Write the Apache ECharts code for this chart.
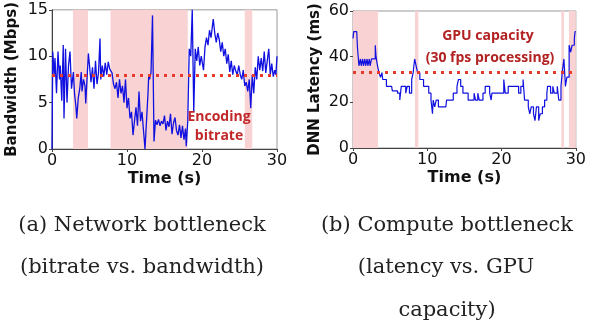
<!DOCTYPE html>
<html>
<head>
<meta charset="utf-8">
<script src="https://cdn.jsdelivr.net/npm/echarts@6/dist/echarts.min.js"></script>
<style>
  html, body { margin: 0; padding: 0; background: #fff; }
  #chart { width: 589px; height: 327px; }
</style>
</head>
<body>
<div id="chart"></div>
<script>
// (a) bandwidth over time, Mbps
var bandwidth = [
  [0,0],[0.1,10.5],[0.3,8],[0.4,9.8],[0.6,6],[0.8,10.5],[1.0,7.5],[1.1,9],[1.3,5.2],[1.5,11.2],[1.6,3.3],
  [1.8,10.8],[2.0,5],[2.2,9],[2.4,10.5],[2.6,6.5],[2.85,8.3],[3.0,6],[3.2,4.5],[3.3,3.3],[3.5,5.5],
  [3.7,6.5],[3.9,8.3],[4.0,6.2],[4.2,7.5],[4.4,6.8],[4.5,4.9],[4.7,8],[4.85,10.3],[5.0,9],[5.2,7.2],
  [5.4,8.8],[5.6,6.5],[5.8,9.5],[6.0,7],[6.2,8.2],[6.4,11.9],[6.5,7.5],[6.7,9],[6.9,7.8],[7.1,9.3],
  [7.3,8],[7.5,9.4],[7.7,8.6],[7.9,8.8],[8.0,8.2],[8.2,7],[8.4,6.5],[8.6,7.2],[8.8,5.5],[9.0,7.5],
  [9.2,6],[9.4,6.8],[9.6,5],[9.8,7.5],[10.0,4.4],[10.2,5.5],[10.4,3.3],[10.6,4],[10.8,1.5],[11.0,3],
  [11.2,4.5],[11.4,2.5],[11.6,6.2],[11.8,3],[12.0,4],[12.2,2],[12.4,0],[12.6,3],[12.8,6],[12.9,8],
  [13.0,7.5],[13.2,8.2],[13.4,14.4],[13.6,0.8],[13.8,3.1],[14.0,2.6],[14.2,3.2],[14.4,2.5],[14.6,3],
  [14.8,2.7],[15.0,3.6],[15.2,2],[15.4,3],[15.6,2.4],[15.8,3.8],[16.0,1.6],[16.2,2.8],[16.4,3.4],
  [16.6,2],[16.8,1.5],[17.0,2.6],[17.2,1.2],[17.4,2.5],[17.6,1],[17.8,2.2],[17.9,0.3],[18.1,3],
  [18.3,10.8],[18.5,10],[18.7,15],[18.9,4],[19.1,10.8],[19.3,9.5],[19.5,11],[19.7,9],[19.9,10],
  [20.2,8.5],[20.4,11],[20.6,12],[20.8,11.2],[21.0,12.8],[21.2,12],[21.5,14],[21.7,12.5],[21.9,11.5],
  [22.1,12.5],[22.3,11.8],[22.5,10.5],[22.7,11.5],[22.9,10],[23.1,10.8],[23.3,9.2],[23.5,10.2],
  [23.7,8.3],[23.9,9.5],[24.1,8],[24.3,9],[24.5,8.4],[24.7,8],[24.9,9],[25.1,8],[25.3,7.5],
  [25.5,8.5],[25.7,6.8],[25.9,7.2],[26.1,6.2],[26.3,7.5],[26.5,4.4],[26.7,8],[26.9,6],[27.1,8.8],
  [27.3,7.5],[27.5,10],[27.7,8.5],[27.9,9.8],[28.1,8.4],[28.3,10.5],[28.5,8.2],[28.7,9.5],
  [28.9,10.8],[29.1,8],[29.3,9.2],[29.5,7.8],[29.7,8.5],[29.85,8],[30,10]
];
var bitrate = 8;
var netBottleneck = [[2.8, 4.8], [7.8, 18.1], [25.7, 26.7]];

// (b) DNN latency over time, ms (stepped)
var latency = [
  [0,48],[0.1,51],[0.5,51],[0.6,44],[0.7,40],[0.8,36],[1.0,39],[1.1,36],[1.3,39],[1.4,36],[1.6,39],
  [1.7,36],[1.9,39],[2.0,36],[2.2,39],[2.3,36],[2.5,39],[3.0,45],[3.1,40],[3.3,36],[3.5,33],
  [3.7,31],[3.9,33],[4.0,30],[4.5,27],[5.2,27],[5.3,25],[6.0,24],[6.3,21],[6.5,27],[7.1,24],
  [7.3,27],[7.6,24],[7.9,30],[8.1,33],[8.2,36],[8.3,39],[8.5,36],[8.7,33],[9.0,30],[9.5,27],
  [10.2,24],[10.5,21],[10.7,15],[10.8,21],[11.0,18],[11.2,21],[11.5,18],[12.5,18],[12.6,21],
  [13.5,24],[14.0,27],[14.2,30],[14.5,27],[14.8,24],[15.5,21],[16.3,24],[16.5,21],[16.8,24],
  [17.0,21],[17.5,24],[17.8,27],[18.4,24],[18.6,21],[18.7,24],[20.3,30],[20.5,24],[20.9,27],
  [22.3,24],[22.6,27],[22.9,30],[23.1,21],[23.6,18],[23.8,15],[24.0,18],[24.3,15],[24.5,12],
  [24.7,18],[25.0,12],[25.2,15],[25.5,18],[25.8,21],[26.1,24],[26.2,27],[26.6,24],[26.9,27],
  [27.1,24],[27.5,27],[27.7,21],[28.0,27],[28.2,34],[28.4,39],[28.6,27],[28.8,31],[29.1,45],
  [29.3,42],[29.5,45],[29.8,48],[29.9,51],[30,51]
];
var gpuCapacity = 33.3;
var computeBottleneck = [[0, 3.37], [8.35, 8.8], [28.05, 28.4], [29.07, 30]];

var chart = echarts.init(document.getElementById('chart'));

function areas(list){
  return list.map(function(r){ return [{xAxis: r[0]}, {xAxis: r[1]}]; });
}

var tickFont = { fontFamily: 'DejaVu Sans', fontSize: 16, color: '#111' };
var nameFont = { fontFamily: 'DejaVu Sans', fontSize: 15, fontWeight: 'bold', color: '#111' };
var noteFont = 'bold 14px "Open Sans"';
var capFont = '21px "DejaVu Serif"';

function xAxisOf(idx){
  return {
    gridIndex: idx, type: 'value', min: 0, max: 30, interval: 10,
    name: 'Time (s)', nameLocation: 'middle', nameGap: 22,
    nameTextStyle: { fontFamily: 'DejaVu Sans', fontSize: 16, fontWeight: 'bold', color: '#111' },
    axisLine: { lineStyle: { color: '#444', width: 1 } },
    axisTick: { length: 3, lineStyle: { color: '#444' } },
    axisLabel: Object.assign({ margin: 4 }, tickFont),
    splitLine: { show: false }
  };
}

function note(x, y, txt, color, font){
  return { type: 'text', x: x, y: y, z: 100,
    style: { text: txt, font: font, fill: color, align: 'center', verticalAlign: 'middle' } };
}

var option = {
  animation: false,
  backgroundColor: '#fff',
  grid: [
    { left: 52, right: 312, top: 9, bottom: 178, show: true, borderColor: '#999', borderWidth: 1 },
    { left: 353, right: 10, top: 11, bottom: 179, show: true, borderColor: '#999', borderWidth: 1 }
  ],
  xAxis: [xAxisOf(0), xAxisOf(1)],
  yAxis: [
    {
      gridIndex: 0, type: 'value', min: 0, max: 15, interval: 5,
      name: 'Bandwidth (Mbps)', nameLocation: 'middle', nameGap: 32, nameTextStyle: nameFont,
      axisLine: { show: true, lineStyle: { color: '#444' } },
      axisTick: { show: true, length: 3, lineStyle: { color: '#444' } },
      axisLabel: Object.assign({ margin: 4 }, tickFont),
      splitLine: { show: false }
    },
    {
      gridIndex: 1, type: 'value', min: 0, max: 60, interval: 20,
      name: 'DNN Latency (ms)', nameLocation: 'middle', nameGap: 30, nameTextStyle: nameFont,
      axisLine: { show: true, lineStyle: { color: '#444' } },
      axisTick: { show: true, length: 3, lineStyle: { color: '#444' } },
      axisLabel: Object.assign({ margin: 4 }, tickFont),
      splitLine: { show: false }
    }
  ],
  series: [
    {
      type: 'line', xAxisIndex: 0, yAxisIndex: 0, data: bandwidth,
      showSymbol: false, lineStyle: { color: '#1010e0', width: 1.3 },
      markArea: { silent: true, itemStyle: { color: '#f9d3d3' }, data: areas(netBottleneck) },
      markLine: {
        silent: true, symbol: 'none', label: { show: false },
        lineStyle: { color: '#e53a2c', width: 3, type: [3, 5] },
        data: [{ yAxis: bitrate }]
      }
    },
    {
      type: 'line', xAxisIndex: 1, yAxisIndex: 1, data: latency, step: 'end',
      showSymbol: false, lineStyle: { color: '#1010e0', width: 1.2 },
      markArea: { silent: true, itemStyle: { color: '#f9d3d3' }, data: areas(computeBottleneck) },
      markLine: {
        silent: true, symbol: 'none', label: { show: false },
        lineStyle: { color: '#e53a2c', width: 3, type: [3, 5] },
        data: [{ yAxis: gpuCapacity }]
      }
    }
  ],
  graphic: [
    note(219, 117, 'Encoding', '#c0282a', noteFont),
    note(219, 136, 'bitrate', '#c0282a', noteFont),
    note(488, 36, 'GPU capacity', '#b22222', noteFont),
    note(490, 58, '(30 fps processing)', '#b22222', noteFont),
    note(142, 226, '(a) Network bottleneck', '#222', capFont),
    note(142, 268, '(bitrate vs. bandwidth)', '#222', capFont),
    note(447, 226, '(b) Compute bottleneck', '#222', capFont),
    note(446, 268, '(latency vs. GPU', '#222', capFont),
    note(447, 311, 'capacity)', '#222', capFont)
  ]
};

chart.setOption(option);
</script>
</body>
</html>
